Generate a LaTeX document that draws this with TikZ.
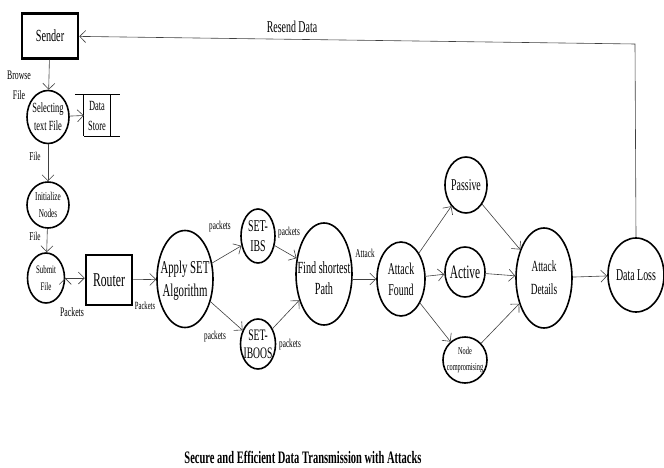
\documentclass[tikz,border=0pt]{standalone}
\usepackage{fontspec}
\setmainfont{Liberation Serif}[FakeStretch=0.6]
\usetikzlibrary{arrows.meta,shapes.geometric}

\newcommand{\fs}[2]{\fontsize{#1}{#2}\selectfont}

\tikzset{
  proc/.style={draw, ellipse, line width=1.6pt, inner sep=0pt},
  txt/.style={align=center, inner sep=0pt},
  box/.style={draw, rectangle, line width=2.5pt, inner sep=0pt},
  flow/.style={draw=black!75, line width=0.6pt, -{Straight Barb[length=6pt,width=12pt]}},
  lab/.style={inner sep=0pt, align=center, font=\fs{12}{13}}
}

\begin{document}
\begin{tikzpicture}[x=1pt,y=-1pt]
\useasboundingbox (0,0) rectangle (664,468);

\node [box, minimum width=56, minimum height=45, font=\fs{17}{18}] (snd) at (50,36) {Sender};
\node [proc, minimum width=42, minimum height=53, label={[txt,font=\fs{14}{18}]center:{Selecting\\text File}}] (sel) at (48,117) {};
\node [txt, minimum width=26, minimum height=41, font=\fs{14}{20}] (ds) at (97,115.5) {Data\\Store};
\node [proc, minimum width=42, minimum height=46, label={[txt,font=\fs{12}{17}]center:{Initialize\\Nodes}}] (ini) at (48,205) {};
\node [proc, minimum width=37, minimum height=50, label={[txt,font=\fs{11.5}{17}]center:{Submit\\File}}] (sub) at (46,278) {};
\node [box, minimum width=46, minimum height=50, font=\fs{19.5}{20}] (rtr) at (109,280) {Router};
\node [proc, minimum width=56, minimum height=97, label={[txt,font=\fs{18}{23},yshift=-2pt]center:{Apply SET\\Algorithm}}] (apl) at (185,279) {};
\node [proc, minimum width=34, minimum height=54, label={[txt,font=\fs{16.5}{20}]center:{SET-\\IBS}}] (ibs) at (258,236) {};
\node [proc, minimum width=35, minimum height=50, label={[txt,font=\fs{16}{18}]center:{SET-\\IBOOS}}] (iboos) at (258,344) {};
\node [proc, minimum width=56, minimum height=102, label={[txt,font=\fs{17}{21},yshift=-4pt]center:{Find shortest\\Path}}] (fsp) at (324,274) {};
\node [proc, minimum width=48, minimum height=74, label={[txt,font=\fs{16.5}{21}]center:{Attack\\Found}}] (af) at (401,279) {};
\node [proc, minimum width=42, minimum height=56, label={[txt,font=\fs{16.5}{18}]center:Passive}] (pas) at (466,185) {};
\node [proc, minimum width=40, minimum height=50, label={[txt,font=\fs{19}{20}]center:Active}] (act) at (465,272) {};
\node [proc, minimum width=44, minimum height=46, label={[txt,font=\fs{10.5}{16}]center:{Node\\compromising}}] (nc) at (465,360) {};
\node [proc, minimum width=56, minimum height=100, label={[txt,font=\fs{15.5}{23}]center:{Attack\\Details}}] (ad) at (544,278) {};
\node [proc, minimum width=56, minimum height=74, label={[txt,font=\fs{16.5}{18}]center:{Data Loss}}] (dl) at (636,275) {};
\coordinate (c1) at (635,44);

% data store lines
\draw [line width=0.8pt] (ds.north west) -- (ds.south west);
\draw [line width=0.8pt] (ds.north east) -- (ds.south east);
\draw [line width=0.8pt] ([xshift=-9]ds.north west) -- ([xshift=10]ds.north east);
\draw [line width=0.8pt] (ds.south west) -- ([xshift=10]ds.south east);

\draw [flow] (snd) edge (sel);
\draw [flow] (sel) edge (ds.west);
\draw [flow] (sel) edge (ini);
\draw [flow] (ini) edge (sub);
\draw [flow] (sub.east) edge (rtr.west |- sub.east);
\draw [flow] (rtr) edge (apl);
\draw [flow] (apl) edge (ibs);
\draw [flow] (apl) edge (iboos);
\draw [flow] (ibs) edge (fsp);
\draw [flow] (iboos) edge (fsp);
\draw [flow] (fsp.east |- af.west) -- (af.west);
\draw [flow] (af) edge (pas);
\draw [flow] (af) edge (act);
\draw [flow] (af) edge (nc);
\draw [flow] (pas) edge (ad);
\draw [flow] (act) edge (ad);
\draw [flow] (nc) edge (ad);
\draw [flow] (ad) edge (dl);
\draw [flow] (dl.north) -- (c1) -- (snd);

\node [lab, font=\fs{13}{20}] (l1) at (19,85) {Browse\\File};
\node [lab] (l2) at (35,156) {File};
\node [lab] (l3) at (35,236) {File};
\node [lab, font=\fs{13}{14}] (l4) at (72,312) {Packets};
\node [lab, font=\fs{11}{12}] (l5) at (145,306) {Packets};
\node [lab] (l6) at (220,227) {packets};
\node [lab] (l7) at (289,233) {packets};
\node [lab] (l8) at (215,337) {packets};
\node [lab] (l9) at (290,345) {packets};
\node [lab] (l10) at (365,253) {Attack};
\node [lab, font=\fs{16.5}{18}] (l11) at (292,27) {Resend Data};
\node [lab, font=\bfseries\fs{17.5}{18}] (cap) at (303,457) {Secure and Efficient Data Transmission with Attacks};

\end{tikzpicture}
\end{document}
